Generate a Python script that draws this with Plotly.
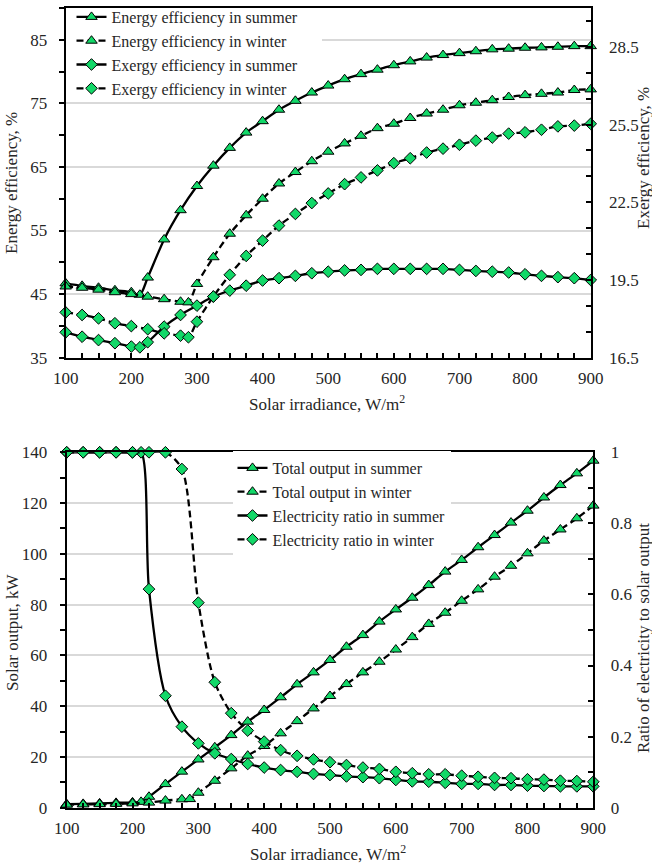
import plotly.graph_objects as go

W, H = 652, 866
FONT = "Liberation Serif"
GREEN = "#12d868"
GRID = "#d9d9d9"
TEXT = "#262626"

# ---------------- data ----------------
# irradiance levels (W/m2); summer switches mode near 213, winter near 287
irr_tail = [300, 325, 350, 375, 400, 425, 450, 475, 500, 525, 550, 575, 600,
            625, 650, 675, 700, 725, 750, 775, 800, 825, 850, 875, 900]
irr_summer = [100, 125, 150, 175, 200, 213, 225, 250, 275] + irr_tail
irr_winter = [100, 125, 150, 175, 200, 225, 250, 275, 287] + irr_tail
irr_ratio_winter = [100, 125, 150, 175, 200, 225, 250, 275] + irr_tail

# upper panel: efficiencies (%)
energy_eff_summer = [46.7, 46.3, 46.0, 45.6, 45.3, 44.9, 47.6, 53.6, 58.2,
                     62.0, 65.2, 68.0, 70.4, 72.2, 74.0, 75.4, 76.7, 77.8, 78.8,
                     79.6, 80.3, 81.0, 81.6, 82.2, 82.6, 82.9, 83.2, 83.5, 83.6,
                     83.75, 83.8, 83.9, 84.0, 84.0]
energy_eff_winter = [46.2, 46.0, 45.7, 45.3, 45.0, 44.6, 44.2, 43.8, 43.7,
                     46.6, 50.8, 54.5, 57.4, 60.0, 62.4, 64.2, 65.9, 67.4, 68.7,
                     69.9, 71.1, 71.8, 72.7, 73.4, 74.0, 74.7, 75.1, 75.5, 76.0,
                     76.3, 76.5, 76.7, 77.1, 77.2]
exergy_eff_summer = [17.48, 17.31, 17.18, 17.06, 16.93, 16.90, 17.10, 17.70, 18.15,
                     18.51, 18.86, 19.09, 19.28, 19.48, 19.57, 19.66, 19.76, 19.82,
                     19.87, 19.89, 19.93, 19.93, 19.93, 19.93, 19.93, 19.89, 19.85,
                     19.82, 19.79, 19.72, 19.66, 19.61, 19.57, 19.50]
exergy_eff_winter = [18.25, 18.15, 18.02, 17.83, 17.72, 17.60, 17.44, 17.35, 17.29,
                     17.89, 18.86, 19.70, 20.43, 21.02, 21.60, 22.05, 22.47, 22.84,
                     23.20, 23.46, 23.73, 24.01, 24.20, 24.42, 24.57, 24.72, 24.88,
                     25.00, 25.15, 25.20, 25.30, 25.43, 25.46, 25.53]

# lower panel: solar output (kW) and electricity share
total_out_summer = [1.4, 1.5, 1.7, 1.9, 2.1, 2.3, 4.3, 9.3, 14.2,
                    19.0, 23.8, 28.6, 33.9, 38.5, 43.5, 48.6, 53.3, 58.2, 63.4,
                    68.0, 73.3, 78.1, 82.7, 87.7, 93.0, 97.6, 102.6, 107.4, 112.3,
                    117.0, 122.2, 127.1, 131.7, 136.7]
total_out_winter = [1.2, 1.3, 1.4, 1.5, 1.7, 2.0, 2.8, 3.3, 3.4,
                    5.9, 10.6, 15.5, 20.5, 24.3, 29.3, 34.1, 39.1, 44.0, 48.7,
                    53.3, 57.5, 62.3, 67.2, 72.4, 76.8, 81.5, 86.0, 91.0, 95.3,
                    100.2, 105.2, 109.6, 114.0, 119.0]
elec_ratio_summer = [1.0, 1.0, 1.0, 1.0, 1.0, 1.0, 0.615, 0.315, 0.228,
                     0.181, 0.153, 0.137, 0.123, 0.113, 0.106, 0.101, 0.095, 0.092,
                     0.088, 0.086, 0.083, 0.078, 0.074, 0.073, 0.070, 0.067, 0.067,
                     0.064, 0.064, 0.062, 0.061, 0.060, 0.060, 0.060]
elec_ratio_winter = [1.0, 1.0, 1.0, 1.0, 1.0, 1.0, 1.0, 0.953,
                     0.577, 0.353, 0.266, 0.217, 0.186, 0.162, 0.146, 0.136, 0.128,
                     0.120, 0.113, 0.109, 0.101, 0.097, 0.094, 0.094, 0.090, 0.087,
                     0.084, 0.083, 0.080, 0.079, 0.076, 0.075, 0.073]

# axis ranges
X_RANGE = [100, 900]
EFF_RANGE = [35, 90]
EXERGY_RANGE = [16.5, 30]
OUTPUT_RANGE = [0, 140]
RATIO_RANGE = [0, 1]

# ---------------- styling helpers ----------------
def fx(p):
    return p / W


def fy(p):
    return 1 - p / H


# panel frames in page pixels
TOP_L, TOP_R, TOP_T, TOP_B = 65.7, 590.7, 8.0, 357.7
BOT_L, BOT_R, BOT_T, BOT_B = 66.7, 593.3, 452.3, 807.7

TRI = dict(symbol="triangle-up", size=10, color=GREEN, line=dict(color="black", width=1))
DIA = dict(symbol="diamond", size=9, color=GREEN, line=dict(color="black", width=1))
DASH = "7px,4px"


def line(dash=None):
    d = dict(color="black", width=2.3, shape="spline", smoothing=0.8)
    if dash:
        d["dash"] = dash
    return d


fig = go.Figure()

# upper panel
fig.add_trace(go.Scatter(x=irr_summer, y=energy_eff_summer, name="Energy efficiency in summer",
                         mode="lines+markers", line=line(), marker=TRI,
                         xaxis="x", yaxis="y", legend="legend", cliponaxis=False))
fig.add_trace(go.Scatter(x=irr_winter, y=energy_eff_winter, name="Energy efficiency in winter",
                         mode="lines+markers", line=line(DASH), marker=TRI,
                         xaxis="x", yaxis="y", legend="legend", cliponaxis=False))
fig.add_trace(go.Scatter(x=irr_summer, y=exergy_eff_summer, name="Exergy efficiency in summer",
                         mode="lines+markers", line=line(), marker=DIA,
                         xaxis="x", yaxis="y2", legend="legend", cliponaxis=False))
fig.add_trace(go.Scatter(x=irr_winter, y=exergy_eff_winter, name="Exergy efficiency in winter",
                         mode="lines+markers", line=line(DASH), marker=DIA,
                         xaxis="x", yaxis="y2", legend="legend", cliponaxis=False))

# lower panel
fig.add_trace(go.Scatter(x=irr_summer, y=total_out_summer, name="Total output in summer",
                         mode="lines+markers", line=line(), marker=TRI,
                         xaxis="x2", yaxis="y3", legend="legend2", cliponaxis=False))
fig.add_trace(go.Scatter(x=irr_winter, y=total_out_winter, name="Total output in winter",
                         mode="lines+markers", line=line(DASH), marker=TRI,
                         xaxis="x2", yaxis="y3", legend="legend2", cliponaxis=False))
fig.add_trace(go.Scatter(x=irr_summer, y=elec_ratio_summer, name="Electricity ratio in summer",
                         mode="lines+markers", line=line(), marker=DIA,
                         xaxis="x2", yaxis="y4", legend="legend2", cliponaxis=False))
fig.add_trace(go.Scatter(x=irr_ratio_winter, y=elec_ratio_winter, name="Electricity ratio in winter",
                         mode="lines+markers", line=line(DASH), marker=DIA,
                         xaxis="x2", yaxis="y4", legend="legend2", cliponaxis=False))

tickfont = dict(family=FONT, size=17, color=TEXT)
common = dict(showline=True, linecolor="black", linewidth=2, zeroline=False,
              tickfont=tickfont, tickcolor="black", tickwidth=1.5, ticklen=5,
              automargin=False)


def xaxis(domain, anchor):
    return dict(domain=domain, anchor=anchor, range=X_RANGE, tick0=100, dtick=100,
                ticks="inside", showgrid=False, mirror=True, ticklabelstandoff=4,
                minor=dict(tick0=100, dtick=25, ticks="inside", ticklen=5,
                           tickcolor="black", tickwidth=1.5),
                **common)


def yleft(domain, anchor, rng, t0, dt, mdt, standoff):
    return dict(domain=domain, anchor=anchor, range=rng, tick0=t0, dtick=dt,
                ticks="outside", showgrid=True, gridcolor=GRID, gridwidth=1.5,
                mirror=True, ticklabelstandoff=standoff,
                minor=dict(tick0=t0, dtick=mdt, ticks="outside", ticklen=5,
                           tickcolor="black", tickwidth=1.5, showgrid=False),
                **common)


def yright(over, anchor, rng, t0, dt, mdt, fmt, standoff):
    return dict(overlaying=over, anchor=anchor, side="right", range=rng, tick0=t0,
                dtick=dt, tickformat=fmt, ticks="inside", showgrid=False,
                ticklabelstandoff=standoff,
                minor=dict(tick0=t0, dtick=mdt, ticks="inside", ticklen=5,
                           tickcolor="black", tickwidth=1.5, showgrid=False),
                **common)


legend_font = dict(family=FONT, size=16, color=TEXT)


def title(text, x, y, angle=0):
    return dict(text=text, x=fx(x), y=fy(y), xref="paper", yref="paper",
                xanchor="center", yanchor="middle", showarrow=False,
                textangle=angle, font=dict(family=FONT, size=17, color=TEXT))


# white backdrop behind the upper legend: hides the grid there but stays under the curves
def top_x(px):
    return X_RANGE[0] + (px - TOP_L) / (TOP_R - TOP_L) * (X_RANGE[1] - X_RANGE[0])


def top_y(py):
    return EFF_RANGE[0] + (TOP_B - py) / (TOP_B - TOP_T) * (EFF_RANGE[1] - EFF_RANGE[0])


legend_backdrop = dict(
    type="rect", layer="between", xref="x", yref="y",
    x0=X_RANGE[0], x1=top_x(322), y0=top_y(99), y1=EFF_RANGE[1],
    fillcolor="white", line=dict(width=0),
)

fig.update_layout(
    width=W, height=H,
    margin=dict(l=0, r=0, t=0, b=0, autoexpand=False),
    paper_bgcolor="white", plot_bgcolor="white",
    xaxis=xaxis([fx(TOP_L), fx(TOP_R)], "y"),
    yaxis=yleft([fy(TOP_B), fy(TOP_T)], "x", EFF_RANGE, 35, 10, 5, 8),
    yaxis2=yright("y", "x", EXERGY_RANGE, 16.5, 3, 1, ".1f", 13),
    xaxis2=xaxis([fx(BOT_L), fx(BOT_R)], "y3"),
    yaxis3=yleft([fy(BOT_B), fy(BOT_T)], "x2", OUTPUT_RANGE, 0, 20, 10, 9),
    yaxis4=yright("y3", "x2", RATIO_RANGE, 0, 0.2, 0.1, "", 12),
    legend=dict(x=fx(71.5), y=fy(0), xanchor="left", yanchor="top",
                bgcolor="rgba(255,255,255,0)", borderwidth=0, font=legend_font,
                tracegroupgap=0, itemclick=False),
    legend2=dict(x=fx(232.5), y=fy(451), xanchor="left", yanchor="top",
                 bgcolor="white", borderwidth=0, font=legend_font,
                 tracegroupgap=0, itemclick=False),
    shapes=[legend_backdrop],
    annotations=[
        title("Solar irradiance, W/m<sup>2</sup>", 327, 403),
        title("Energy efficiency, %", 12, 183, -90),
        title("Exergy efficiency, %", 644, 158, -90),
        title("Solar irradiance, W/m<sup>2</sup>", 328, 853),
        title("Solar output, kW", 12, 632, -90),
        title("Ratio of electricity to solar output", 643, 638, -90),
    ],
)

fig.write_html("out.html")
